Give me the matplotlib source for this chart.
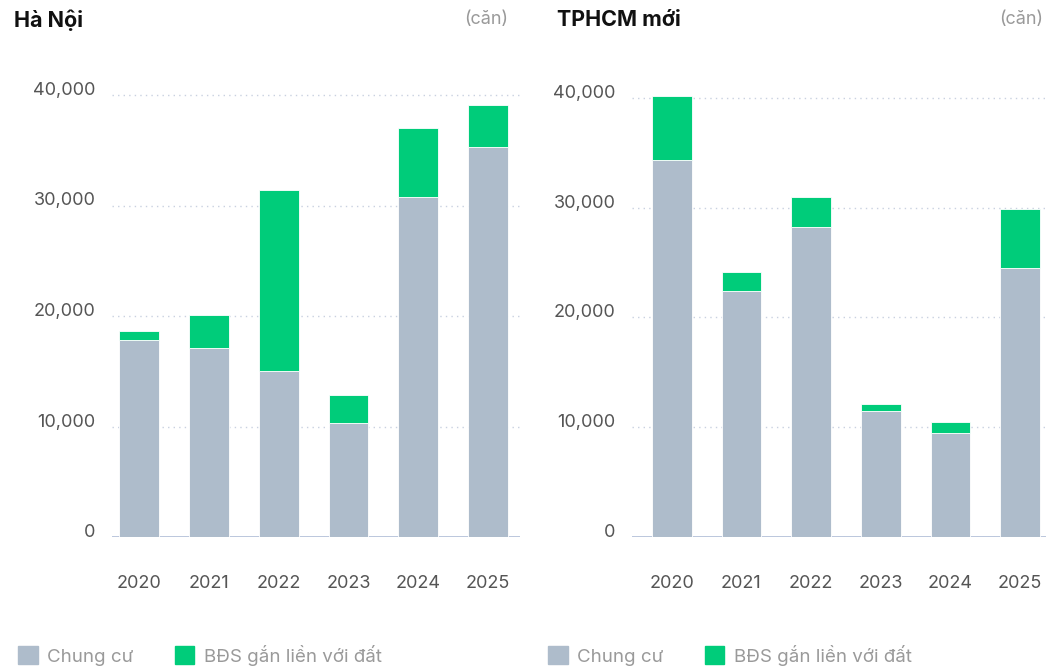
import matplotlib.pyplot as plt
from matplotlib.patches import Patch
from matplotlib.ticker import FuncFormatter

plt.rcParams['font.family'] = ['Inter', 'DejaVu Sans']

years = ["2020", "2021", "2022", "2023", "2024", "2025"]

# Hà Nội (căn)
hn_chung_cu = [17800, 17100, 15000, 10300, 30800, 35300]
hn_dat = [800, 3000, 16400, 2550, 6200, 3800]

# TPHCM mới (căn)
hcm_chung_cu = [34300, 22400, 28200, 11500, 9500, 24500]
hcm_dat = [5900, 1700, 2800, 600, 1000, 5400]

GRAY = "#aebccb"
GREEN = "#00cc7a"
W, H = 1046, 668

fig = plt.figure(figsize=(W / 100, H / 100), dpi=100)


def draw_panel(left, right, px_per_k, title, title_x, unit_x, legend_x, cc, dat, xlim):
    bottom = H - 537
    top_val = 42000
    height = top_val / 1000 * px_per_k
    ax = fig.add_axes([left / W, bottom / H, (right - left) / W, height / H])
    x = range(len(years))
    ax.bar(x, cc, width=0.57, color=GRAY, edgecolor="white", linewidth=0.6, zorder=3)
    ax.bar(x, dat, bottom=cc, width=0.57, color=GREEN, edgecolor="white",
           linewidth=0.6, zorder=3)
    ax.set_ylim(0, top_val)
    ax.set_xlim(*xlim)
    ax.set_yticks([0, 10000, 20000, 30000, 40000])
    ax.yaxis.set_major_formatter(FuncFormatter(lambda v, p: f"{int(v):,}"))
    ax.set_xticks(list(x))
    ax.set_xticklabels(years)
    for s in ax.spines.values():
        s.set_visible(False)
    ax.grid(axis="y", color="#c9d1e0", linestyle=(0, (1, 3)), linewidth=1, zorder=0)
    ax.axhline(0, color="#b6c3da", linewidth=1.3, zorder=2)
    ax.tick_params(axis="both", length=0, labelsize=13, labelcolor="#555555")
    ax.tick_params(axis="y", pad=12)
    ax.tick_params(axis="x", pad=27)
    for lab in ax.get_yticklabels():
        lab.set_verticalalignment("baseline")
    fig.text(title_x / W, 1 - 20 / H, title, fontsize=15.5, fontweight="bold",
             color="#111111", va="center", ha="left")
    fig.text(unit_x / W, 1 - 20 / H, "(căn)", fontsize=13, color="#9a9a9a",
             va="center", ha="right")
    handles = [Patch(color=GRAY, label="Chung cư"),
               Patch(color=GREEN, label="BĐS gắn liền với đất")]
    fig.legend(handles=handles, loc="center left",
               bbox_to_anchor=(legend_x / W, (H - 655) / H),
               ncol=2, frameon=False, fontsize=13.5, labelcolor="#9a9a9a",
               handlelength=1.05, handleheight=1.05, handletextpad=0.5,
               columnspacing=2.2, borderpad=0, borderaxespad=0)
    return ax


draw_panel(112, 520, 11.05, "Hà Nội", 14, 508, 18,
           hn_chung_cu, hn_dat, (-0.39, 5.46))
draw_panel(632, 1046, 10.98, "TPHCM mới", 557, 1043, 548,
           hcm_chung_cu, hcm_dat, (-0.57, 5.37))

fig.savefig("out.png", dpi=100)
